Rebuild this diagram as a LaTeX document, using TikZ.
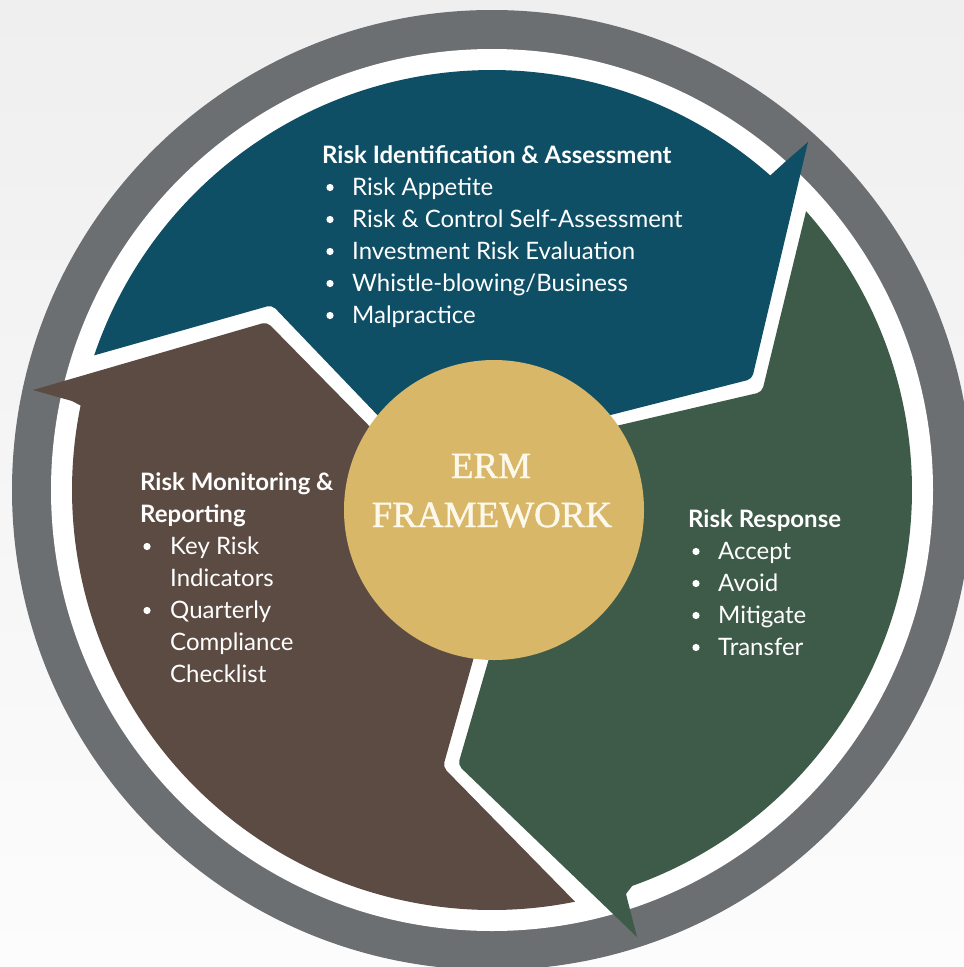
\documentclass[tikz,border=0pt]{standalone}
\usepackage{fontspec}
\setmainfont{Lato}
\newfontfamily\ermfont[FakeBold=1.2]{Liberation Serif}
\usetikzlibrary{calc}
\definecolor{ringgray}{HTML}{6C6F72}
\definecolor{segblue}{HTML}{0F4F66}
\definecolor{seggreen}{HTML}{3E5A48}
\definecolor{segbrown}{HTML}{5C4B43}
\definecolor{hubgold}{HTML}{D8B868}
\definecolor{ermtext}{HTML}{FDF8EC}
\definecolor{bgtop}{HTML}{EFEFEF}
\definecolor{bgbot}{HTML}{FCFCFC}
\begin{document}
\begin{tikzpicture}[x=1pt,y=-1pt,
  ttl/.style={anchor=base west, text=white, font=\fontsize{24}{28}\selectfont\bfseries, inner sep=0pt},
  itm/.style={anchor=base west, text=white, font=\fontsize{24}{28}\selectfont, inner sep=0pt},
  erm/.style={anchor=base, text=ermtext, font=\ermfont\fontsize{37}{44}\selectfont, inner sep=0pt},
  bul/.style={fill=white}]
\useasboundingbox (0,0) rectangle (964,967);
\shade[top color=bgtop, bottom color=bgbot] (0,0) rectangle (964,967);
\coordinate (C) at (492,490);
\coordinate (G) at (494,510);
% outer ring
\fill[ringgray] (C) circle[radius=480];
\fill[white] (C) circle[radius=441];
% blue segment
\fill[segblue] ($(C)+(198.7:420)$) arc[start angle=198.7, end angle=311.5, radius=420]
  -- (785,162) -- (808,142) [rounded corners=5] -- (752,379) [sharp corners] -- (540,433)
  -- (430,470) [rounded corners=5] -- (272,305) [sharp corners] -- cycle;
% green segment
\fill[seggreen] ($(C)+(-41.6:420)$) arc[start angle=-41.6, end angle=70.5, radius=420]
  -- (626,894) -- (637,937) [rounded corners=5] -- (458,765) [sharp corners] -- (506,600)
  -- (560,439) [rounded corners=5] -- (762,392) [sharp corners] -- cycle;
% brown segment
\fill[segbrown] ($(C)+(78.6:420)$) arc[start angle=78.6, end angle=191.6, radius=420]
  -- (72,401) -- (33,390) [rounded corners=5] -- (267,322) [sharp corners] -- (440,498)
  -- (490,600) [rounded corners=5] -- (443,767) [sharp corners] -- cycle;
% hub
\fill[hubgold] (G) circle[radius=150];
\node[erm] (erm1) at (491,478) {ERM};
\node[erm] (erm2) at (492,527) {FRAMEWORK};
% blue texts
\node[ttl] (t1) at (322,163) {Risk Identification \& Assessment};
\node[itm] (a1) at (352,195) {Risk Appetite};
\node[itm] (a2) at (352,227) {Risk \& Control Self-Assessment};
\node[itm] (a3) at (352,259) {Investment Risk Evaluation};
\node[itm] (a4) at (352,291) {Whistle-blowing/Business};
\node[itm] (a5) at (352,323) {Malpractice};
\foreach \yy in {195,227,259,291,323} \fill[bul] (330,\yy-7.5) circle[radius=3.6];
% green texts
\node[ttl] (t2) at (688,527) {Risk Response};
\node[itm] (b1) at (718,559) {Accept};
\node[itm] (b2) at (718,591) {Avoid};
\node[itm] (b3) at (718,623) {Mitigate};
\node[itm] (b4) at (718,655) {Transfer};
\foreach \yy in {559,591,623,655} \fill[bul] (696,\yy-7.5) circle[radius=3.6];
% brown texts
\node[ttl] (t3a) at (140,490) {Risk Monitoring \&};
\node[ttl] (t3b) at (140,522) {Reporting};
\node[itm] (c1) at (170,554) {Key Risk};
\node[itm] (c2) at (170,586) {Indicators};
\node[itm] (c3) at (170,618) {Quarterly};
\node[itm] (c4) at (170,650) {Compliance};
\node[itm] (c5) at (170,682) {Checklist};
\foreach \yy in {554,618} \fill[bul] (147,\yy-7.5) circle[radius=3.6];
\end{tikzpicture}
\end{document}
